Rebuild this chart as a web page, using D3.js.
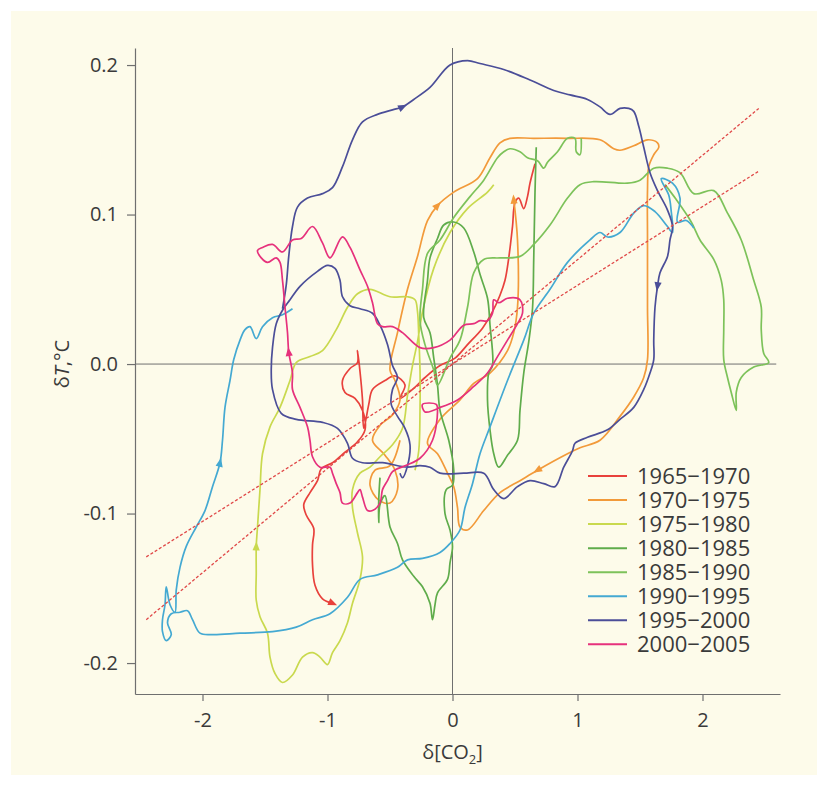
<!DOCTYPE html>
<html>
<head>
<meta charset="utf-8">
<script src="https://cdn.jsdelivr.net/npm/d3@7"></script>
<style>
body { margin: 0; background: #ffffff; }
svg text { font-family: "Open Sans", sans-serif; fill: #3a3a3a; }
</style>
</head>
<body>
<div id="chart"></div>
<script>
"use strict";

const periods = ["1965\u22121970", "1970\u22121975", "1975\u22121980", "1980\u22121985",
                 "1985\u22121990", "1990\u22121995", "1995\u22122000", "2000\u22122005"];
const colors = ["#e8413c", "#f29a3a", "#c9d94e", "#5fac4b", "#7dc25a", "#44a9d2", "#4b4e98", "#e6317c"];

const xTicks = [-2, -1, 0, 1, 2];
const yTicks = [-0.2, -0.1, 0.0, 0.1, 0.2];

// regression lines (dashed)
const fitSteep = [[-2.45, -0.171], [2.45, 0.171]];
const fitFlat = [[-2.45, -0.129], [2.45, 0.129]];

// trajectories [dCO2, dT]
const p1965 = [[0.66,0.134],[0.62,0.121],[0.60,0.112],[0.57,0.104],[0.53,0.111],[0.50,0.108],[0.48,0.092],[0.45,0.071],[0.42,0.056],[0.38,0.046],[0.32,0.035],[0.24,0.024],[0.12,0.013],[0.02,0.004],[-0.10,-0.001],[-0.22,-0.009],[-0.32,-0.017],[-0.42,-0.023],[-0.38,-0.014],[-0.46,-0.008],[-0.54,-0.011],[-0.64,-0.017],[-0.67,-0.027],[-0.71,-0.043],[-0.72,-0.024],[-0.74,-0.005],[-0.76,0.009],[-0.76,0.001],[-0.82,-0.003],[-0.88,-0.011],[-0.86,-0.019],[-0.78,-0.023],[-0.72,-0.031],[-0.70,-0.044],[-0.76,-0.052],[-0.86,-0.059],[-0.96,-0.066],[-1.05,-0.070],[-1.08,-0.078],[-1.14,-0.086],[-1.19,-0.094],[-1.17,-0.101],[-1.11,-0.110],[-1.12,-0.121],[-1.12,-0.134],[-1.10,-0.148],[-1.04,-0.157],[-0.96,-0.160]];

const p1970 = [[-0.42,-0.051],[-0.50,-0.068],[-0.62,-0.071],[-0.66,-0.081],[-0.59,-0.091],[-0.50,-0.093],[-0.44,-0.084],[-0.46,-0.071],[-0.54,-0.061],[-0.64,-0.051],[-0.58,-0.041],[-0.48,-0.034],[-0.42,-0.024],[-0.46,-0.011],[-0.50,-0.004],[-0.44,0.021],[-0.36,0.050],[-0.28,0.072],[-0.20,0.096],[-0.12,0.106],[0.01,0.115],[0.20,0.124],[0.30,0.138],[0.38,0.148],[0.46,0.151],[0.65,0.151],[0.92,0.151],[1.18,0.150],[1.29,0.144],[1.34,0.143],[1.45,0.146],[1.56,0.150],[1.64,0.148],[1.65,0.145],[1.61,0.140],[1.57,0.132],[1.56,0.116],[1.56,0.083],[1.56,0.038],[1.56,0.003],[1.53,-0.009],[1.45,-0.022],[1.34,-0.035],[1.18,-0.051],[1.02,-0.056],[0.92,-0.060],[0.68,-0.071],[0.54,-0.078],[0.38,-0.086],[0.25,-0.098],[0.12,-0.111],[0.06,-0.109],[0.04,-0.096],[0.01,-0.082],[-0.04,-0.073],[-0.12,-0.060],[-0.20,-0.053],[-0.10,-0.037],[0.06,-0.024],[0.17,-0.013],[0.30,-0.006],[0.44,0.009],[0.49,0.021],[0.52,0.038],[0.52,0.083],[0.49,0.110]];

const p1975 = [[0.33,0.120],[0.28,0.115],[0.12,0.104],[-0.02,0.088],[-0.15,0.064],[-0.24,0.035],[-0.28,0.015],[-0.32,-0.001],[-0.36,-0.021],[-0.40,-0.043],[-0.48,-0.054],[-0.58,-0.062],[-0.66,-0.069],[-0.74,-0.073],[-0.80,-0.084],[-0.80,-0.096],[-0.76,-0.113],[-0.72,-0.129],[-0.74,-0.144],[-0.80,-0.160],[-0.84,-0.173],[-0.90,-0.185],[-0.96,-0.193],[-1.00,-0.201],[-1.06,-0.196],[-1.12,-0.193],[-1.20,-0.196],[-1.28,-0.208],[-1.36,-0.213],[-1.42,-0.207],[-1.46,-0.196],[-1.48,-0.180],[-1.54,-0.169],[-1.57,-0.158],[-1.57,-0.140],[-1.57,-0.122],[-1.56,-0.109],[-1.54,-0.084],[-1.52,-0.060],[-1.46,-0.042],[-1.38,-0.029],[-1.30,-0.011],[-1.25,0.001],[-1.14,0.005],[-1.04,0.009],[-0.93,0.023],[-0.84,0.038],[-0.76,0.047],[-0.66,0.050],[-0.50,0.045],[-0.36,0.045],[-0.30,0.043],[-0.28,0.035],[-0.27,0.019],[-0.26,-0.004],[-0.26,-0.031],[-0.27,-0.058],[-0.30,-0.071]];

const p1980 = [[-0.58,-0.076],[-0.59,-0.091],[-0.59,-0.106],[-0.58,-0.094],[-0.54,-0.088],[-0.50,-0.109],[-0.44,-0.120],[-0.40,-0.131],[-0.31,-0.142],[-0.24,-0.149],[-0.18,-0.160],[-0.16,-0.171],[-0.14,-0.161],[-0.12,-0.153],[-0.04,-0.144],[-0.02,-0.133],[0.00,-0.122],[-0.02,-0.111],[-0.06,-0.100],[-0.05,-0.084],[0.00,-0.081],[0.01,-0.071],[-0.03,-0.051],[-0.10,-0.031],[-0.12,-0.014],[-0.15,0.004],[-0.18,0.021],[-0.23,0.031],[-0.20,0.056],[-0.18,0.071],[-0.12,0.084],[-0.07,0.093],[0.01,0.095],[0.09,0.091],[0.17,0.075],[0.22,0.060],[0.28,0.044],[0.30,0.026],[0.32,-0.001],[0.29,-0.006],[0.28,-0.024],[0.30,-0.044],[0.33,-0.060],[0.37,-0.069],[0.44,-0.061],[0.52,-0.051],[0.54,-0.031],[0.57,-0.006],[0.61,0.015],[0.64,0.037],[0.65,0.071],[0.66,0.115],[0.67,0.145]];

const p1985 = [[1.03,0.151],[1.02,0.140],[0.99,0.142],[0.98,0.151],[0.92,0.151],[0.84,0.142],[0.76,0.135],[0.73,0.131],[0.68,0.136],[0.60,0.138],[0.54,0.142],[0.46,0.144],[0.41,0.142],[0.36,0.138],[0.25,0.123],[0.14,0.112],[0.01,0.098],[-0.10,0.083],[-0.20,0.074],[-0.24,0.050],[-0.26,0.029],[-0.22,0.013],[-0.15,-0.004],[-0.12,-0.014],[-0.02,0.004],[0.06,0.016],[0.12,0.038],[0.17,0.061],[0.25,0.070],[0.38,0.071],[0.54,0.072],[0.65,0.080],[0.78,0.093],[0.92,0.111],[1.02,0.120],[1.13,0.122],[1.40,0.121],[1.50,0.123],[1.61,0.131],[1.72,0.131],[1.82,0.128],[1.93,0.114],[2.09,0.116],[2.20,0.101],[2.31,0.083],[2.41,0.056],[2.47,0.038],[2.47,0.023],[2.49,0.007],[2.53,0.001],[2.41,-0.002],[2.31,-0.009],[2.27,-0.019],[2.27,-0.031],[2.23,-0.019],[2.20,-0.009],[2.17,0.003],[2.17,0.023],[2.17,0.043],[2.15,0.056],[2.09,0.070],[1.98,0.083],[1.91,0.095],[1.79,0.110],[1.70,0.120]];

const p1990 = [[1.93,0.091],[1.87,0.096],[1.80,0.095],[1.82,0.111],[1.76,0.121],[1.67,0.124],[1.73,0.113],[1.75,0.102],[1.76,0.088],[1.72,0.092],[1.62,0.102],[1.53,0.106],[1.45,0.101],[1.34,0.088],[1.24,0.085],[1.18,0.088],[1.10,0.083],[0.92,0.068],[0.78,0.050],[0.65,0.034],[0.57,0.016],[0.44,-0.011],[0.30,-0.042],[0.22,-0.060],[0.16,-0.080],[0.10,-0.096],[0.06,-0.111],[-0.02,-0.120],[-0.10,-0.126],[-0.24,-0.130],[-0.36,-0.131],[-0.44,-0.136],[-0.60,-0.141],[-0.74,-0.144],[-0.84,-0.156],[-0.98,-0.167],[-1.12,-0.171],[-1.25,-0.176],[-1.44,-0.179],[-1.70,-0.180],[-1.92,-0.181],[-2.02,-0.180],[-2.08,-0.171],[-2.12,-0.165],[-2.18,-0.166],[-2.25,-0.167],[-2.28,-0.173],[-2.25,-0.181],[-2.29,-0.185],[-2.32,-0.179],[-2.32,-0.171],[-2.30,-0.161],[-2.29,-0.149],[-2.26,-0.161],[-2.22,-0.166],[-2.21,-0.151],[-2.18,-0.136],[-2.13,-0.122],[-2.05,-0.109],[-1.98,-0.098],[-1.92,-0.082],[-1.86,-0.066],[-1.84,-0.051],[-1.82,-0.029],[-1.78,-0.011],[-1.75,0.003],[-1.70,0.016],[-1.66,0.023],[-1.62,0.025],[-1.57,0.017],[-1.52,0.025],[-1.44,0.031],[-1.36,0.033],[-1.28,0.037]];

const p1995 = [[-1.36,0.037],[-1.33,0.053],[-1.31,0.072],[-1.28,0.092],[-1.24,0.105],[-1.16,0.111],[-1.04,0.114],[-0.96,0.118],[-0.88,0.132],[-0.80,0.150],[-0.72,0.162],[-0.60,0.167],[-0.48,0.170],[-0.40,0.172],[-0.31,0.177],[-0.18,0.185],[-0.02,0.200],[0.12,0.203],[0.22,0.201],[0.41,0.197],[0.62,0.190],[0.81,0.183],[0.94,0.180],[1.08,0.177],[1.18,0.172],[1.26,0.167],[1.34,0.171],[1.41,0.171],[1.45,0.169],[1.49,0.159],[1.53,0.145],[1.58,0.128],[1.64,0.116],[1.72,0.103],[1.76,0.092],[1.74,0.083],[1.72,0.072],[1.66,0.061],[1.64,0.052],[1.62,0.038],[1.61,0.016],[1.61,0.003],[1.58,-0.006],[1.53,-0.017],[1.45,-0.029],[1.34,-0.037],[1.24,-0.044],[1.08,-0.049],[0.98,-0.053],[0.96,-0.058],[0.89,-0.069],[0.82,-0.082],[0.73,-0.080],[0.62,-0.078],[0.52,-0.082],[0.41,-0.090],[0.33,-0.084],[0.25,-0.073],[0.09,-0.073],[-0.10,-0.073],[-0.18,-0.069],[-0.26,-0.068],[-0.36,-0.069],[-0.56,-0.066],[-0.72,-0.066],[-0.80,-0.063],[-0.84,-0.053],[-0.92,-0.043],[-1.04,-0.039],[-1.25,-0.037],[-1.37,-0.033],[-1.44,-0.017],[-1.45,-0.004],[-1.44,0.011],[-1.41,0.027],[-1.36,0.036],[-1.30,0.043],[-1.22,0.052],[-1.08,0.062],[-1.00,0.066],[-0.94,0.064],[-0.90,0.056],[-0.88,0.045],[-0.82,0.039],[-0.74,0.037],[-0.64,0.034],[-0.58,0.026],[-0.52,0.013],[-0.48,-0.001],[-0.44,-0.009],[-0.48,-0.017],[-0.49,-0.027],[-0.44,-0.035],[-0.38,-0.043],[-0.34,-0.054],[-0.36,-0.068],[-0.40,-0.076],[-0.42,-0.073]];

const p2000 = [[-0.10,-0.029],[-0.22,-0.032],[-0.24,-0.027],[-0.13,-0.027],[-0.12,-0.032],[-0.16,-0.051],[-0.26,-0.063],[-0.38,-0.068],[-0.48,-0.072],[-0.52,-0.078],[-0.56,-0.084],[-0.58,-0.093],[-0.64,-0.098],[-0.68,-0.098],[-0.72,-0.089],[-0.74,-0.084],[-0.76,-0.086],[-0.82,-0.093],[-0.88,-0.093],[-0.90,-0.086],[-0.93,-0.080],[-0.96,-0.073],[-0.98,-0.069],[-1.06,-0.069],[-1.12,-0.062],[-1.14,-0.051],[-1.16,-0.042],[-1.22,-0.029],[-1.28,-0.017],[-1.28,-0.006],[-1.31,0.008],[-1.32,0.021],[-1.34,0.038],[-1.36,0.056],[-1.38,0.068],[-1.41,0.071],[-1.48,0.068],[-1.53,0.071],[-1.56,0.076],[-1.52,0.078],[-1.44,0.080],[-1.36,0.075],[-1.28,0.083],[-1.21,0.084],[-1.12,0.092],[-1.04,0.081],[-0.98,0.071],[-0.88,0.085],[-0.82,0.078],[-0.74,0.063],[-0.68,0.052],[-0.64,0.041],[-0.60,0.027],[-0.56,0.025],[-0.48,0.025],[-0.40,0.021],[-0.26,0.011],[-0.15,0.011],[-0.02,0.016],[0.09,0.026],[0.17,0.027],[0.22,0.029],[0.28,0.029],[0.32,0.034],[0.33,0.043],[0.37,0.041],[0.44,0.044],[0.54,0.043],[0.56,0.034],[0.52,0.027],[0.44,0.016],[0.36,0.005],[0.28,-0.006],[0.17,-0.015],[0.04,-0.024],[-0.10,-0.029]];

const series = [p1965, p1970, p1975, p1980, p1985, p1990, p1995, p2000];

// direction arrows: series index and the point they sit on
const arrows = [
    {s: 0, at: [-0.96, -0.160]},
    {s: 1, at: [-0.12, 0.106]},
    {s: 1, at: [0.68, -0.071]},
    {s: 1, at: [0.49, 0.110]},
    {s: 2, at: [-1.57, -0.122]},
    {s: 5, at: [-1.86, -0.066]},
    {s: 6, at: [-0.40, 0.172]},
    {s: 6, at: [1.64, 0.052]},
    {s: 7, at: [-1.31, 0.008]}
];

const msm = {
    width: 828,
    height: 786,
    left: 135,
    right: 780,
    top: 48,
    bottom: 694
};

const svg = d3.select("#chart")
    .append("svg")
    .attr("width", msm.width)
    .attr("height", msm.height);

// cream panel
svg.append("rect")
    .attr("x", 11).attr("y", 11)
    .attr("width", msm.width - 22).attr("height", msm.height - 22)
    .attr("fill", "#fdfbea");

const xScale = d3.scaleLinear().domain([-2.54, 2.62]).range([msm.left, msm.right]);
const yScale = d3.scaleLinear().domain([-0.2207, 0.2114]).range([msm.bottom, msm.top]);

// axes
const yAxis = d3.axisLeft(yScale)
    .tickValues(yTicks)
    .tickFormat(d => d.toFixed(1))
    .tickSizeInner(8).tickSizeOuter(0).tickPadding(9);
const gy = svg.append("g")
    .attr("transform", "translate(" + msm.left + ",0)")
    .call(yAxis);

const xAxis = d3.axisBottom(xScale)
    .tickValues(xTicks)
    .tickFormat(d => String(d))
    .tickSizeInner(7).tickSizeOuter(0).tickPadding(12);
const gx = svg.append("g")
    .attr("transform", "translate(0," + msm.bottom + ")")
    .call(xAxis);

[gx, gy].forEach(g => {
    g.select(".domain").attr("stroke", "#6f6f6f").attr("stroke-width", 1.2);
    g.selectAll(".tick line").attr("stroke", "#6f6f6f").attr("stroke-width", 1.2);
    g.selectAll(".tick text")
        .attr("font-family", "Open Sans, sans-serif")
        .attr("font-size", 20)
        .attr("fill", "#3a3a3a");
});

// zero lines
svg.append("line")
    .attr("x1", xScale(0)).attr("x2", xScale(0))
    .attr("y1", msm.top).attr("y2", msm.bottom)
    .attr("stroke", "#6f6f6f").attr("stroke-width", 1);
svg.append("line")
    .attr("x1", msm.left).attr("x2", xScale(2.59))
    .attr("y1", yScale(0)).attr("y2", yScale(0))
    .attr("stroke", "#6f6f6f").attr("stroke-width", 1);

// trajectories
const line = d3.line()
    .x(d => xScale(d[0]))
    .y(d => yScale(d[1]))
    .curve(d3.curveCatmullRom.alpha(0.5));

series.forEach((pts, i) => {
    svg.append("path")
        .datum(pts)
        .attr("d", line)
        .attr("fill", "none")
        .attr("stroke", colors[i])
        .attr("stroke-width", 1.7)
        .attr("stroke-linejoin", "round");
});

// arrowheads
arrows.forEach(a => {
    const pts = series[a.s];
    const i = d3.minIndex(pts, p => (p[0] - a.at[0]) ** 2 + ((p[1] - a.at[1]) * 12) ** 2);
    const p0 = pts[Math.max(i - 1, 0)];
    const p1 = pts[Math.min(i + 1, pts.length - 1)];
    const ang = Math.atan2(yScale(p1[1]) - yScale(p0[1]), xScale(p1[0]) - xScale(p0[0])) * 180 / Math.PI;
    svg.append("path")
        .attr("d", "M5,0L-4,-3.6L-4,3.6Z")
        .attr("fill", colors[a.s])
        .attr("transform", "translate(" + xScale(pts[i][0]) + "," + yScale(pts[i][1]) + ") rotate(" + ang + ")");
});

// dashed fit lines
[fitSteep, fitFlat].forEach(f => {
    svg.append("path")
        .datum(f)
        .attr("d", d3.line().x(d => xScale(d[0])).y(d => yScale(d[1])))
        .attr("fill", "none")
        .attr("stroke", "#e04848")
        .attr("stroke-width", 1.3)
        .attr("stroke-dasharray", "3,2");
});

// legend
const legend = svg.append("g").attr("transform", "translate(588,476)");
periods.forEach((p, i) => {
    legend.append("line")
        .attr("x1", 0).attr("x2", 39)
        .attr("y1", i * 24.05).attr("y2", i * 24.05)
        .attr("stroke", colors[i]).attr("stroke-width", 2);
    legend.append("text")
        .attr("x", 49).attr("y", i * 24.05)
        .attr("dy", "0.36em")
        .attr("font-size", 22)
        .text(p);
});

// axis titles
const xt = svg.append("text")
    .attr("x", xScale(0)).attr("y", 759)
    .attr("text-anchor", "middle")
    .attr("font-size", 20);
xt.append("tspan").text("\u03b4[CO");
xt.append("tspan").attr("font-size", 13).attr("dy", 5).text("2");
xt.append("tspan").attr("dy", -5).text("]");

const yt = svg.append("text")
    .attr("transform", "translate(69," + yScale(0) + ") rotate(-90)")
    .attr("text-anchor", "middle")
    .attr("font-size", 20);
yt.append("tspan").text("\u03b4");
yt.append("tspan").attr("font-style", "italic").text("T");
yt.append("tspan").text(",\u00b0C");
</script>
</body>
</html>
